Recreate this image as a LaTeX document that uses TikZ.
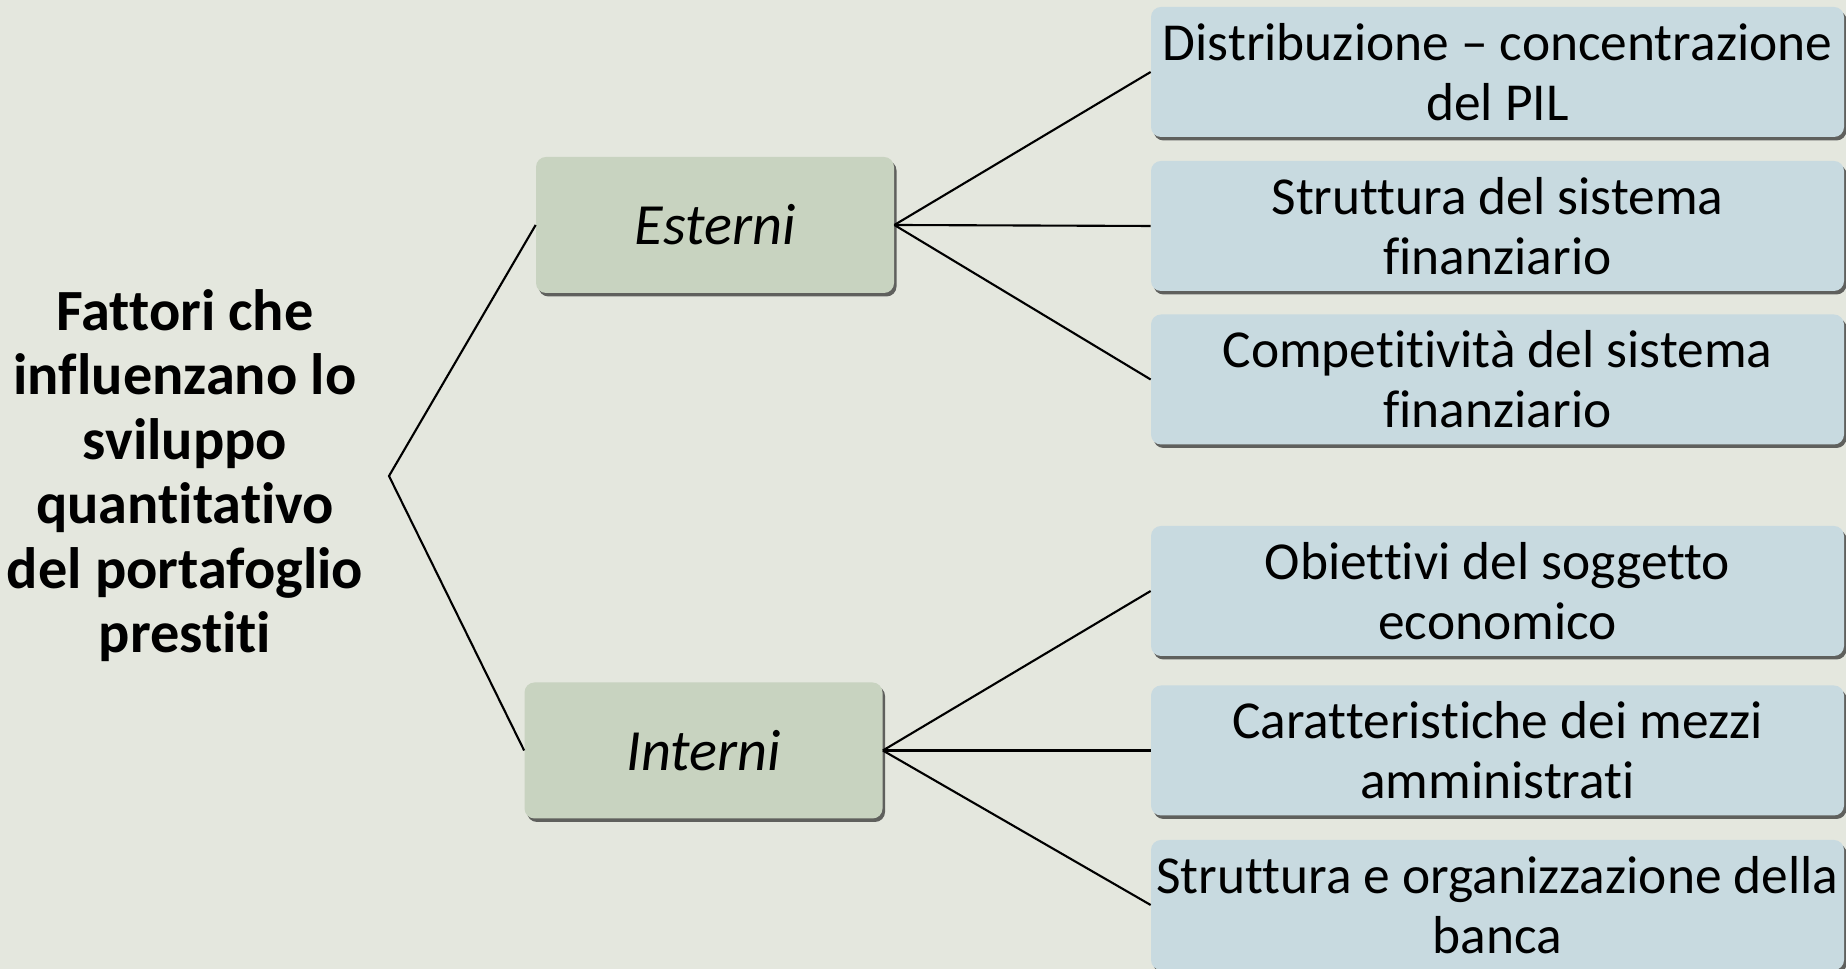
\documentclass[tikz,border=0pt]{standalone}
\usepackage{fontspec}
\setmainfont{Carlito}[RawFeature={-liga;-clig;-dlig}]
\usetikzlibrary{shadows}
\definecolor{bgcol}{RGB}{228,231,222}
\definecolor{catcol}{RGB}{200,211,192}
\definecolor{itemcol}{RGB}{200,218,224}
\tikzset{
	boxshadow/.style={drop shadow={shadow xshift=0.05cm,shadow yshift=-0.07cm,opacity=0.75,fill=black!80}},
	catbox/.style={rounded corners=0.2cm,fill=catcol,boxshadow,
		minimum width=7.16cm,minimum height=2.72cm,inner sep=0pt,
		font=\fontsize{33.2}{38}\selectfont\itshape},
	itembox/.style={rounded corners=0.2cm,fill=itemcol,boxshadow,
		minimum width=13.86cm,minimum height=2.6cm,inner sep=0pt,align=center,
		font=\fontsize{30.4}{34.3}\selectfont},
	link/.style={line width=1.2pt,black}
}
\begin{document}
\begin{tikzpicture}
		%
		\fill[bgcol] (0,0) rectangle (36.92,19.38);
		\useasboundingbox (0,0) rectangle (36.92,19.38);
		%
		\node[align=center,font=\fontsize{33.2}{36.7}\selectfont\bfseries] (root) at (3.70,9.87)
			{Fattori che\\influenzano lo\\sviluppo\\quantitativo\\del portafoglio\\prestiti};
		\coordinate (fork) at (7.78,9.86);
		%
		\node[catbox] (est) at (14.30,14.88) {Esterni};
		\node[catbox] (int) at (14.07,4.37) {Interni};
		%
		\node[itembox] (e1) at (29.95,17.94) {Distribuzione -- concentrazione\\del PIL};
		\node[itembox] (e2) at (29.95,14.86) {Struttura del sistema\\finanziario};
		\node[itembox] (e3) at (29.95,11.79) {Competitività del sistema\\finanziario};
		\node[itembox] (i1) at (29.95,7.56) {Obiettivi del soggetto\\economico};
		\node[itembox] (i2) at (29.95,4.37) {Caratteristiche dei mezzi\\amministrati};
		\node[itembox] (i3) at (29.95,1.28) {Struttura e organizzazione della\\banca};
		%
		\draw[link] (est.west) -- (fork) -- (int.west);
		\draw[link] (est.east) -- (e1.west);
		\draw[link] (est.east) -- (e2.west);
		\draw[link] (est.east) -- (e3.west);
		\draw[link] (int.east) -- (i1.west);
		\draw[link] (int.east) -- (i2.west);
		\draw[link] (int.east) -- (i3.west);
		\end{tikzpicture}
\end{document}
